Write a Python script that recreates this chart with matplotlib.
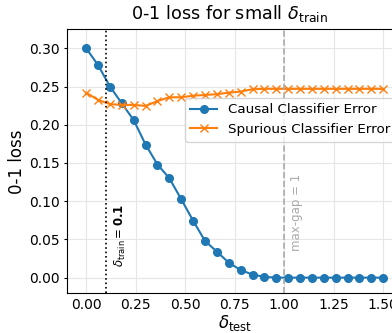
import matplotlib
matplotlib.use("Agg")
import matplotlib.pyplot as plt
import numpy as np

delta_test = [0.00, 0.06, 0.12, 0.18, 0.24, 0.30, 0.36, 0.42, 0.48, 0.54, 0.60, 0.66, 0.72,
              0.78, 0.84, 0.90, 0.96, 1.02, 1.08, 1.14, 1.20, 1.26, 1.32, 1.38, 1.44, 1.50]
causal_err = [0.300, 0.278, 0.250, 0.228, 0.206, 0.174, 0.148, 0.130, 0.1025, 0.0745, 0.048,
              0.034, 0.0195, 0.010, 0.004, 0.001, 0.0, 0.0, 0.0, 0.0, 0.0, 0.0, 0.0, 0.0, 0.0, 0.0]
spurious_err = [0.242, 0.2325, 0.227, 0.226, 0.226, 0.2246, 0.231, 0.236, 0.236, 0.238, 0.239,
                0.240, 0.242, 0.2434, 0.2465, 0.247, 0.247, 0.247, 0.247, 0.247, 0.247, 0.247,
                0.247, 0.247, 0.247, 0.247]
delta_train = 0.1
max_gap = 1.0
xticks = [0.00, 0.25, 0.50, 0.75, 1.00, 1.25, 1.50]
yticks = [0.00, 0.05, 0.10, 0.15, 0.20, 0.25, 0.30]

W, H = 392, 333
fig = plt.figure(figsize=(W / 100, H / 100), dpi=100)
x0, x1 = -0.097, 1.6
left_px = 67
px_per_unit = 198
right_px = left_px + (x1 - x0) * px_per_unit
ax = fig.add_axes([left_px / W, (H - 293.3) / H, (right_px - left_px) / W, (293.3 - 29.3) / H])

ax.grid(True, color='#e6e6e6', linewidth=0.8)
ax.set_axisbelow(True)
ax.plot(delta_test, causal_err, marker='o', color='#1f77b4', markersize=5.5, linewidth=1.5,
        label='Causal Classifier Error')
ax.plot(delta_test, spurious_err, marker='x', color='#ff7f0e', markersize=5.5, linewidth=1.5,
        label='Spurious Classifier Error')
ax.axvline(delta_train, color='black', linestyle=':', linewidth=1.2)
ax.axvline(max_gap, color='#aaaaaa', linestyle='--', linewidth=1.2)
ax.text(delta_train + 0.035, 0.0143, r'$\delta_{\rm train} = \mathbf{0.1}$', rotation=90,
        fontsize=8.5, va='bottom', ha='left')
ax.text(max_gap + 0.03, 0.035, 'max-gap = 1', rotation=90, color='#aaaaaa',
        fontsize=8.5, va='bottom', ha='left')

ax.set_xlim(x0, x1)
ax.set_ylim(-0.0205, 0.3249)
ax.set_xticks(xticks)
ax.set_yticks(yticks)
ax.tick_params(labelsize=10)
ax.tick_params(axis='x', length=0, pad=3.2)
ax.tick_params(axis='y', length=2.5, pad=2.6)
ax.set_xlabel(r'$\delta_{\rm test}$', fontsize=12, labelpad=1)
ax.set_ylabel('0-1 loss', fontsize=12, labelpad=2)
fig.text(229.5 / W, (H - 14) / H, r'0-1 loss for small $\delta_{\rm train}$', fontsize=12.7,
         ha='center', va='center')
ax.legend(loc='upper left', borderaxespad=0,
          bbox_to_anchor=((185 - left_px) / (right_px - left_px), (293.3 - 98) / (293.3 - 29.3)),
          fontsize=9.7, framealpha=0.8)

fig.savefig('out.png', dpi=100)
